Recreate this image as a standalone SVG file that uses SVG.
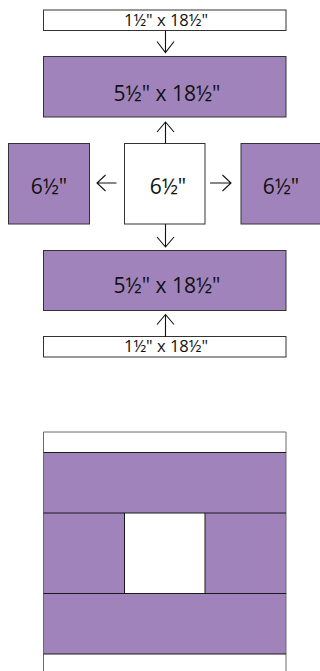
<svg xmlns="http://www.w3.org/2000/svg" width="320" height="671" viewBox="0 0 320 671">
<style>
.w{fill:#fff;stroke:#333;stroke-width:1}
.p{fill:#a183bc;stroke:#333;stroke-width:1}
.t{font-family:"Open Sans","Noto Sans",sans-serif;fill:#111;text-anchor:middle}
.s{font-size:16.5px}
.l{font-size:21px}
.a{fill:none;stroke:#111;stroke-width:1.1}
.q{fill:#a183bc;stroke:none}
.qw{fill:#fff;stroke:none}
.ql{stroke:#1a1a1a;stroke-width:1}
.qs{stroke:#6a6a6a;stroke-width:1}
</style>
<rect width="320" height="671" fill="#fff"/>
<g id="strip-top"><rect class="w" x="43.5" y="10" width="242.5" height="20.5"/><text class="t s" x="166" y="26.3">1½" x 18½"</text></g>
<g id="band-top"><rect class="p" x="43.5" y="56.5" width="242.5" height="60.5"/><text class="t l" x="167" y="100.5">5½" x 18½"</text></g>
<g id="square-left"><rect class="p" x="8.5" y="143.5" width="81" height="80.5"/><text class="t l" x="49" y="194">6½"</text></g>
<g id="square-center"><rect class="w" x="124.5" y="143.5" width="80.5" height="80.5"/><text class="t l" x="168" y="194">6½"</text></g>
<g id="square-right"><rect class="p" x="241" y="143.5" width="81" height="80.5"/><text class="t l" x="281" y="194">6½"</text></g>
<g id="band-bottom"><rect class="p" x="43.5" y="250.5" width="242.5" height="60"/><text class="t l" x="167" y="293">5½" x 18½"</text></g>
<g id="strip-bottom"><rect class="w" x="43.5" y="336.5" width="242.5" height="20.5"/><text class="t s" x="166" y="352.3">1½" x 18½"</text></g>
<g id="connectors">
<path class="a" d="M165.5 30.5V52.5M157 41.5L165.5 52.5L174 41.5"/>
<path class="a" d="M165.5 143.5V122M157 132L165.5 122L174 132"/>
<path class="a" d="M116.5 183H97M105.5 175L97 183L105.5 191"/>
<path class="a" d="M210 183H231M222.5 175L231 183L222.5 191"/>
<path class="a" d="M165.5 224V247M157 237L165.5 247L174 237"/>
<path class="a" d="M165.5 336.5V314.5M157 324.5L165.5 314.5L174 324.5"/>
</g>
<g id="quilt">
<rect class="qw" x="43.5" y="432" width="242.5" height="20.5"/>
<rect class="q" x="43.5" y="452.5" width="242.5" height="60.5"/>
<rect class="q" x="43.5" y="513" width="81" height="80.5"/>
<rect class="qw" x="124.5" y="513" width="80.5" height="80.5"/>
<rect class="q" x="205" y="513" width="81" height="80.5"/>
<rect class="q" x="43.5" y="593.5" width="242.5" height="60.5"/>
<path class="qs" d="M43.5 432H286M43.5 432V671M286 432V671"/>
<path class="ql" d="M43.5 452.5H286M43.5 513H286M43.5 593.5H286M43.5 654H286M124.5 513V593.5M205 513V593.5"/>
</g>
</svg>
